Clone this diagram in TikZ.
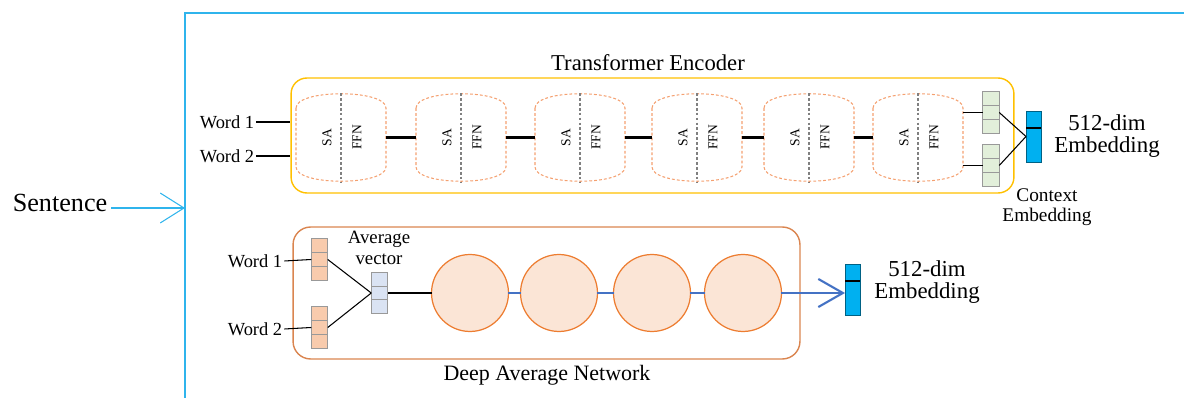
\documentclass[tikz,border=0pt]{standalone}
\usepackage{fontspec}
\setmainfont{Liberation Serif}
\usepackage{tikz}
\usetikzlibrary{arrows.meta,positioning,calc}
\definecolor{framec}{HTML}{2FB4EC}
\definecolor{encc}{HTML}{FFC000}
\definecolor{blkc}{HTML}{F4A070}
\definecolor{danc}{HTML}{DA8550}
\definecolor{greenc}{HTML}{E2EFDA}
\definecolor{orangec}{HTML}{F8CBAD}
\definecolor{avgc}{HTML}{DAE3F3}
\definecolor{neuronc}{HTML}{FBE5D6}
\definecolor{neuronl}{HTML}{ED7D31}
\definecolor{embc}{HTML}{00B0F0}
\definecolor{linkc}{HTML}{4472C4}
% one encoder layer: #1 name, #2 x of its centre
\newcommand{\encblock}[2]{%
  \node[blk] (#1) at (#2,137.5) {};
  \draw[blkedge] ($(#1.north west)+(0,15)$) .. controls ($(#1.north west)+(0,-4)$) and ($(#1.north east)+(0,-4)$) .. ($(#1.north east)+(0,15)$)
    -- ($(#1.south east)+(0,-15)$) .. controls ($(#1.south east)+(0,4)$) and ($(#1.south west)+(0,4)$) .. ($(#1.south west)+(0,-15)$) -- cycle;
  \draw[divide] (#1.north) -- (#1.south);
  \node[sublbl] (#1sa) at ($(#1.center)+(-14,0)$) {SA};
  \node[sublbl] (#1ffn) at ($(#1.center)+(16,0)$) {FFN};}
% three-cell vector: #1 name, #2 x, #3 y, #4 fill
\newcommand{\cellvec}[4]{%
  \node[vec, fill=#4] (#1) at (#2,#3) {};
  \draw[vecline] ($(#1.north west)!1/3!(#1.south west)$) -- ($(#1.north east)!1/3!(#1.south east)$);
  \draw[vecline] ($(#1.north west)!2/3!(#1.south west)$) -- ($(#1.north east)!2/3!(#1.south east)$);}

\begin{document}
\begin{tikzpicture}[x=0.02cm, y=-0.02cm,
  blk/.style={minimum width=1.8cm, minimum height=1.78cm, inner sep=0, outer sep=0},
  blkedge/.style={draw=blkc, line width=0.6pt, dash pattern=on 1.6pt off 1.2pt},
  divide/.style={draw=gray, line width=0.6pt, dash pattern=on 1.6pt off 1.2pt},
  sublbl/.style={rotate=90, inner sep=0, font=\fontsize{7.7}{8}\selectfont},
  vec/.style={draw=gray!80, line width=0.5pt, minimum width=0.33cm, minimum height=0.83cm, inner sep=0, outer sep=0},
  vecline/.style={draw=gray!80, line width=0.5pt},
  emb/.style={draw=embc!55!black, fill=embc, line width=0.5pt, minimum width=0.3cm, minimum height=1.02cm, inner sep=0, outer sep=0},
  neuron/.style={circle, draw=neuronl, fill=neuronc, line width=0.7pt, minimum size=1.54cm, inner sep=0, outer sep=0},
  word/.style={font=\fontsize{10.5}{12}\selectfont, inner sep=1pt},
  thin/.style={draw=black, line width=0.6pt},
  link/.style={draw=black, line width=1.5pt},
  blink/.style={draw=linkc, line width=1.3pt},
  sentarr/.style={draw=framec, line width=0.6pt, -{Straight Barb[length=13.5pt, width=17pt]}},
  danarr/.style={draw=linkc, line width=1.2pt, -{Straight Barb[length=14pt, width=16pt]}}]
\useasboundingbox (0,0) rectangle (1184,398);

% input and frame
\draw[framec, line width=0.8pt] (185,398) -- (185,13) -- (1184,13);
\coordinate (inlet) at (185,208);
\node[font=\fontsize{14.9}{16}\selectfont, inner sep=2pt] (sent) at (60,203) {Sentence};
\draw[sentarr] (sent.east |- inlet) -- (inlet);

% transformer encoder
\node[draw=encc, line width=0.8pt, rounded corners=9pt, minimum width=14.46cm, minimum height=2.3cm] (enc) at (652.5,135.5) {};
\node[font=\fontsize{12.9}{14}\selectfont] (enclbl) at (648,63) {Transformer Encoder};
\node[word] (tw1) at (227,122) {Word 1};
\node[word] (tw2) at (227,156) {Word 2};
\draw[thin] (tw1.east) -- (tw1.east -| enc.west);
\draw[thin] (tw2.east) -- (tw2.east -| enc.west);
\encblock{b1}{341}
\encblock{b2}{461}
\encblock{b3}{580}
\encblock{b4}{697}
\encblock{b5}{809}
\encblock{b6}{918}
\draw[link] (b1.east) -- (b2.west);
\draw[link] (b2.east) -- (b3.west);
\draw[link] (b3.east) -- (b4.west);
\draw[link] (b4.east) -- (b5.west);
\draw[link] (b5.east) -- (b6.west);
\cellvec{ctx1}{991}{112.5}{greenc}
\cellvec{ctx2}{991}{165.5}{greenc}
\draw[thin] (b6.east |- ctx1.west) -- (ctx1.west);
\draw[thin] (b6.east |- ctx2.west) -- (ctx2.west);
\node[emb] (emb1) at (1033.5,136.5) {};
\draw[thin] ($(emb1.north west)!1/3!(emb1.south west)$) -- ($(emb1.north east)!1/3!(emb1.south east)$);
\draw[thin] (ctx1.east) -- (emb1.west);
\draw[thin] (ctx2.east) -- (emb1.west);
\node[font=\fontsize{13}{12.6}\selectfont, align=center] (out1) at (1107,136) {512-dim\\Embedding};
\node[font=\fontsize{11}{11.4}\selectfont, align=center] (ctxlbl) at (1047,207) {Context\\Embedding};

% deep average network
\node[draw=danc, line width=0.8pt, rounded corners=10pt, minimum width=10.14cm, minimum height=2.64cm] (dan) at (546.5,293) {};
\node[font=\fontsize{12.5}{14}\selectfont] (danlbl) at (547,375) {Deep Average Network};
\cellvec{wv1}{319.5}{259.5}{orangec}
\cellvec{wv2}{319.5}{327.5}{orangec}
\node[word] (dw1) at (255,261) {Word 1};
\node[word] (dw2) at (255,329) {Word 2};
\draw[thin] (dw1.east) -- (wv1.west);
\draw[thin] (dw2.east) -- (wv2.west);
\cellvec{avg}{379.5}{293}{avgc}
\node[font=\fontsize{10.7}{11.8}\selectfont, align=center, inner sep=0] (avglbl) at (379,248) {Average\\vector};
\draw[thin] (wv1.east) -- (avg.west);
\draw[thin] (wv2.east) -- (avg.west);
\node[neuron] (n1) at (470,293) {};
\node[neuron] (n2) at (559,293) {};
\node[neuron] (n3) at (652,293) {};
\node[neuron] (n4) at (743,293) {};
\draw[thin] (avg.east) -- (n1.west);
\draw[blink] (n1.east) -- (n2.west);
\draw[blink] (n2.east) -- (n3.west);
\draw[blink] (n3.east) -- (n4.west);
\node[emb] (emb2) at (852.5,289.5) {};
\draw[thin] ($(emb2.north west)!1/3!(emb2.south west)$) -- ($(emb2.north east)!1/3!(emb2.south east)$);
\draw[danarr] (n4.east) -- (n4.east -| emb2.west);
\node[font=\fontsize{13}{12.3}\selectfont, align=center] (out2) at (927,282) {512-dim\\Embedding};
\end{tikzpicture}
\end{document}
